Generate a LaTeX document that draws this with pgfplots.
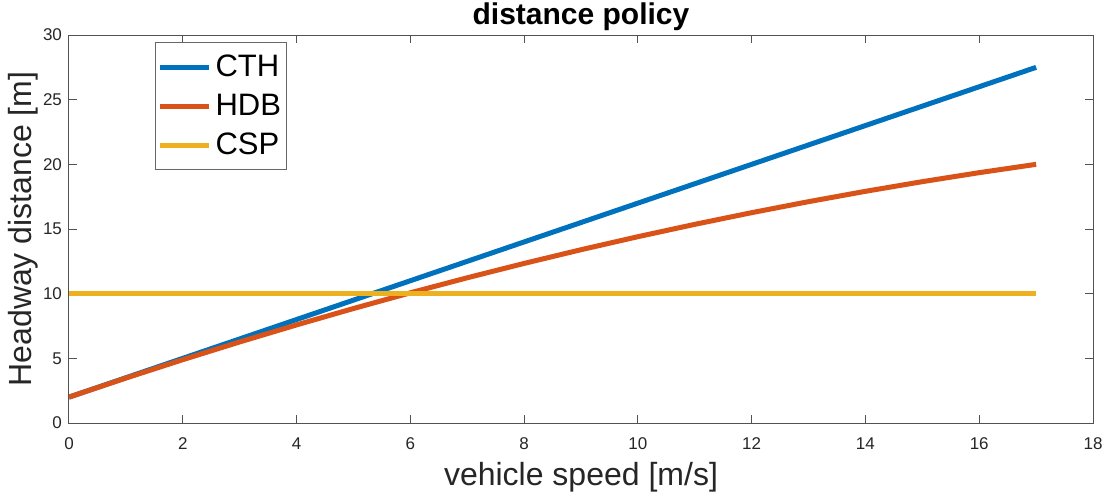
\documentclass[border=0pt]{standalone}
\usepackage{fontspec}
\setmainfont{Liberation Sans}
\usepackage{pgfplots}
\pgfplotsset{compat=1.18}

\definecolor{mblue}{rgb}{0,0.4470,0.7410}
\definecolor{morange}{rgb}{0.8500,0.3250,0.0980}
\definecolor{myellow}{rgb}{0.9290,0.6940,0.1250}
\definecolor{axgray}{rgb}{0.15,0.15,0.15}

\begin{document}
\begin{tikzpicture}
\begin{axis}[
  name=ax,
  scale only axis,
  width=512pt, height=194pt,
  xmin=0, xmax=18, ymin=0, ymax=30,
  xtick={0,2,...,18}, ytick={0,5,...,30},
  tick align=inside,
  major tick length=4pt,
  axis line style={draw=axgray!80, line width=0.5pt},
  every tick/.style={draw=axgray!80, line width=0.5pt},
  tick label style={font=\fontsize{8.5}{10}\selectfont, text=axgray},
  /pgf/number format/assume math mode=true,
  xticklabel style={yshift=-4pt},
  title={\textbf{distance policy}},
  every axis title/.style={at={(axis description cs:0.5,1)}, anchor=base, yshift=5.5pt,
    font=\fontsize{15}{18}\selectfont},
  xlabel={vehicle speed [m/s]},
  every axis x label/.style={at={(axis description cs:0.5,0)}, anchor=base, yshift=-31pt,
    font=\fontsize{16}{19}\selectfont, text=axgray},
  ylabel={Headway distance [m]},
  every axis y label/.style={at={(axis description cs:0,0.5)}, rotate=90, anchor=base, yshift=18.5pt,
    font=\fontsize{16}{19}\selectfont, text=axgray},
  legend style={at={(axis description cs:0,1)}, anchor=north west,
    xshift=43pt, yshift=-3.5pt,
    draw=axgray!70, line width=0.5pt,
    font=\fontsize{15.5}{19.5}\selectfont,
    inner xsep=1pt, inner ysep=2.5pt,
    nodes={text height=12pt, text depth=2.5pt, inner ysep=2.5pt, inner xsep=2pt}},
  legend cell align=left,
  legend image code/.code={\draw[#1, line width=2.5pt] (0pt,0pt) -- (24.5pt,0pt);},
]
% constant time headway: d = 2 + 1.5 v
\addplot[mblue, line width=2.5pt] coordinates {(0,2) (17,27.5)};
\addlegendentry{CTH}
% headway-dependent bound
\addplot[morange, line width=2.5pt] coordinates {
(0,2) (1,3.474) (2,4.896) (3,6.266) (4,7.585) (5,8.851) (6,10.066)
(7,11.228) (8,12.339) (9,13.398) (10,14.405) (11,15.360) (12,16.263)
(13,17.114) (14,17.914) (15,18.661) (16,19.357) (17,20.0)};
\addlegendentry{HDB}
% constant spacing
\addplot[myellow, line width=2.5pt] coordinates {(0,10) (17,10)};
\addlegendentry{CSP}
\end{axis}
\pgfresetboundingbox
\path[use as bounding box] ([shift={(-34.5pt,-37.5pt)}]ax.south west) rectangle ([shift={(13pt,17.5pt)}]ax.north east);
\end{tikzpicture}
\end{document}
